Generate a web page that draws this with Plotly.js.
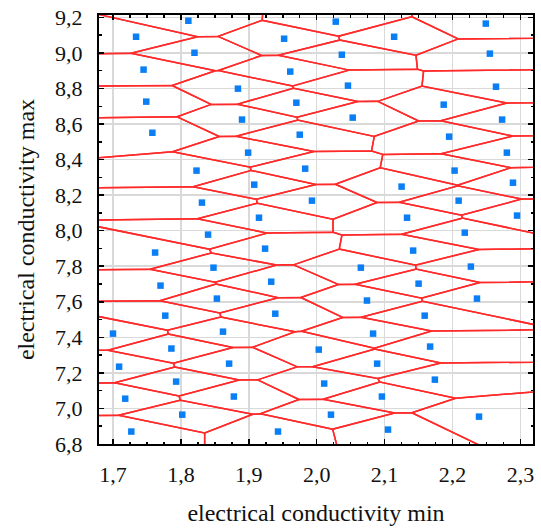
<!DOCTYPE html>
<html>
<head>
<meta charset="utf-8">
<script src="https://cdn.plot.ly/plotly-3.0.1.min.js"></script>
<style>html,body{margin:0;padding:0;background:#fff;}#chart{width:541px;height:529px;}</style>
</head>
<body>
<div id="chart"></div>
<script>
// Electrical conductivity points (min, max)
var condMin = [1.734,1.745,1.749,1.758,1.762,1.770,1.777,1.700,1.786,1.709,1.793,1.718,1.802,1.727,
  1.811,1.820,1.952,2.028,2.037,1.961,1.884,2.046,1.970,1.890,2.053,1.975,1.899,1.983,1.823,
  2.114,2.249,2.255,2.264,2.187,2.273,2.195,2.280,2.203,
  1.908,1.831,1.993,1.915,1.840,1.924,1.848,1.933,1.853,1.939,1.862,2.003,
  2.125,2.289,2.209,2.133,2.295,2.218,2.142,2.065,2.227,2.150,2.074,2.236,2.159,2.083,2.167,
  1.871,2.011,1.878,2.021,1.943,2.089,2.174,2.096,2.239,2.105];
var condMax = [9.091,8.906,8.726,8.551,7.877,7.691,7.522,7.421,7.337,7.235,7.151,7.055,6.965,6.870,
  9.181,9.001,9.080,9.176,8.990,8.895,8.799,8.816,8.720,8.625,8.636,8.540,8.439,8.349,8.338,
  9.091,9.165,8.996,8.810,8.709,8.625,8.529,8.439,8.338,
  8.259,8.158,8.169,8.073,7.978,7.899,7.792,7.713,7.618,7.533,7.432,7.331,
  8.248,8.270,8.169,8.073,8.085,7.989,7.888,7.792,7.798,7.702,7.607,7.618,7.522,7.421,7.348,
  7.252,7.140,7.067,6.965,6.870,7.252,7.162,7.067,6.954,6.881];
var xTickVals = [1.7,1.8,1.9,2.0,2.1,2.2,2.3];
var yTickVals = [6.8,7.0,7.2,7.4,7.6,7.8,8.0,8.2,8.4,8.6,8.8,9.0,9.2];

// Voronoi cells computed from the points (half-plane clipping in data units)
function clip(poly, px, py, qx, qy) {
  var mx = (px + qx) / 2, my = (py + qy) / 2, dx = qx - px, dy = qy - py;
  function f(p) { return (p[0] - mx) * dx + (p[1] - my) * dy; }
  var out = [];
  for (var i = 0; i < poly.length; i++) {
    var a = poly[i], b = poly[(i + 1) % poly.length];
    var fa = f(a), fb = f(b);
    if (fa <= 0) out.push(a);
    if ((fa < 0 && fb > 0) || (fa > 0 && fb < 0)) {
      var t = fa / (fa - fb);
      out.push([a[0] + t * (b[0] - a[0]), a[1] + t * (b[1] - a[1])]);
    }
  }
  return out;
}
var bx0 = 1.4, bx1 = 2.6, by0 = 6.3, by1 = 9.7;
var ex = [], ey = [];
for (var i = 0; i < condMin.length; i++) {
  var poly = [[bx0, by0], [bx1, by0], [bx1, by1], [bx0, by1]];
  for (var j = 0; j < condMin.length; j++) {
    if (i === j) continue;
    poly = clip(poly, condMin[i], condMax[i], condMin[j], condMax[j]);
    if (poly.length === 0) break;
  }
  for (var k = 0; k < poly.length; k++) {
    ex.push(poly[k][0]); ey.push(poly[k][1]);
  }
  if (poly.length) { ex.push(poly[0][0]); ey.push(poly[0][1]); }
  ex.push(null); ey.push(null);
}

var tickFont = {family: 'Liberation Serif, Times New Roman, serif', size: 22, color: '#111'};
var titleFont = {family: 'Liberation Serif, Times New Roman, serif', size: 24, color: '#111'};
var axisCommon = {
  showline: true, linecolor: '#000', linewidth: 2, mirror: 'ticks',
  ticks: 'inside', ticklen: 5, tickcolor: '#000', tickwidth: 1.5,
  showgrid: true, gridcolor: '#d9d9d9', gridwidth: 1.5,
  zeroline: false, tickformat: '.1f', tickfont: tickFont,
  ticklabelstandoff: 10
};
var layout = {
  width: 541, height: 529,
  margin: {l: 99, r: 8, t: 15, b: 85},
  paper_bgcolor: '#fff', plot_bgcolor: '#fff',
  separators: ',.',
  showlegend: false,
  font: tickFont,
  xaxis: Object.assign({}, axisCommon, {
    range: [1.6794, 2.3185], tickmode: 'array', tickvals: xTickVals,
    minor: {dtick: 0.025, tick0: 1.7, ticks: 'inside', ticklen: 2.5, tickcolor: '#000', showgrid: false},
    title: {text: 'electrical conductivity min', font: titleFont, standoff: 18}
  }),
  yaxis: Object.assign({}, axisCommon, {
    range: [6.8, 9.2134], tickmode: 'array', tickvals: yTickVals,
    minor: {dtick: 0.1, tick0: 6.8, ticks: 'inside', ticklen: 2.5, tickcolor: '#000', showgrid: false},
    title: {text: 'electrical conductivity max', font: titleFont, standoff: 14}
  })
};
var traces = [
  {x: ex, y: ey, type: 'scatter', mode: 'lines', line: {color: '#ff2a2a', width: 1.5}, hoverinfo: 'skip'},
  {x: condMin, y: condMax, type: 'scatter', mode: 'markers',
   marker: {symbol: 'square', size: 6.5, color: '#0a7ff5'}}
];
Plotly.newPlot('chart', traces, layout, {displayModeBar: false, staticPlot: true});
</script>
</body>
</html>
